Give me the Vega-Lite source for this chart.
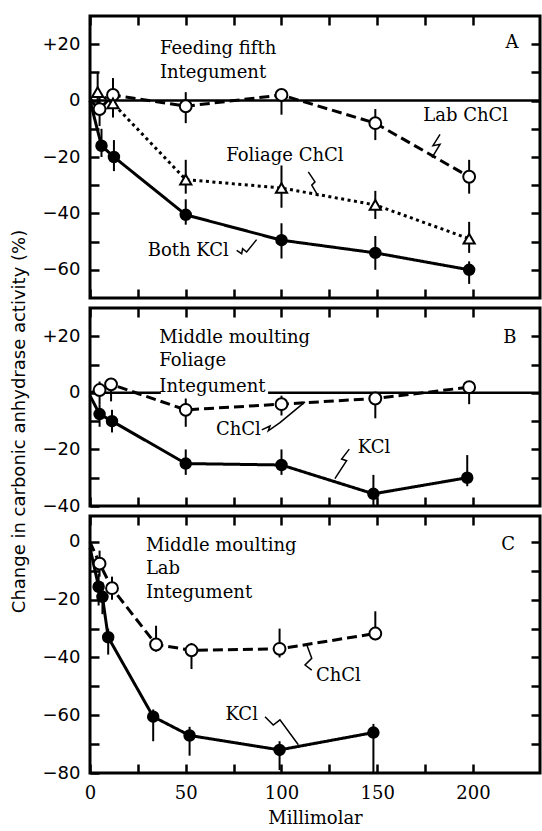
{
"$schema": "https://vega.github.io/schema/vega-lite/v6.json",
"background": "white",
"padding": {"left": 8, "top": 13, "right": 2, "bottom": 0},
"bounds": "flush",
"spacing": 10,
"config": {
  "view": {"stroke": "black", "strokeWidth": 3},
  "axis": {"domain": false, "grid": false, "tickColor": "black", "tickWidth": 2.5, "tickSize": -9, "labelColor": "black", "labelFontSize": 18, "labelPadding": 19, "labelFlush": false, "labelOverlap": false, "labelBound": false, "titleColor": "black", "titleFontSize": 18, "titleFontWeight": "normal"},
  "axisX": {"labelFont": "DejaVu Serif", "titleFont": "DejaVu Serif", "labelPadding": 20, "titlePadding": 7},
  "axisY": {"labelFont": "DejaVu Sans", "titleFont": "DejaVu Sans", "titlePadding": 14},
  "text": {"font": "DejaVu Serif", "fontSize": 18, "color": "black"}
},
"datasets": {
  "A": [
    {"s": "open", "x": 0, "y": 0},
    {"s": "open", "x": 5, "y": -3, "lo": -9, "hi": 2},
    {"s": "open", "x": 12, "y": 2, "lo": -4, "hi": 8},
    {"s": "open", "x": 50, "y": -2, "lo": -8, "hi": 3},
    {"s": "open", "x": 100, "y": 2, "lo": -5, "hi": 3},
    {"s": "open", "x": 149, "y": -8, "lo": -14, "hi": -3},
    {"s": "open", "x": 198, "y": -27, "lo": -33, "hi": -21},
    {"s": "tri", "x": 0, "y": 0},
    {"s": "tri", "x": 4, "y": 3, "lo": -3, "hi": 10},
    {"s": "tri", "x": 12, "y": -1, "lo": -6, "hi": 4},
    {"s": "tri", "x": 50, "y": -28, "lo": -33, "hi": -21},
    {"s": "tri", "x": 100, "y": -31, "lo": -38, "hi": -23},
    {"s": "tri", "x": 149, "y": -37, "lo": -42, "hi": -32},
    {"s": "tri", "x": 198, "y": -49, "lo": -54, "hi": -43},
    {"s": "kcl", "x": 0, "y": 0},
    {"s": "kcl", "x": 6, "y": -16, "lo": -20, "hi": -10},
    {"s": "kcl", "x": 12.5, "y": -20, "lo": -25, "hi": -14},
    {"s": "kcl", "x": 50, "y": -40.5, "lo": -44, "hi": -35},
    {"s": "kcl", "x": 100, "y": -49.5, "lo": -56, "hi": -43.5},
    {"s": "kcl", "x": 149, "y": -54, "lo": -60, "hi": -48},
    {"s": "kcl", "x": 198, "y": -60, "lo": -65, "hi": -57}
  ],
  "B": [
    {"s": "open", "x": 0, "y": 0},
    {"s": "open", "x": 5, "y": 1, "lo": -4, "hi": 4},
    {"s": "open", "x": 11, "y": 3, "lo": -3, "hi": 5},
    {"s": "open", "x": 50, "y": -6, "lo": -12, "hi": -2},
    {"s": "open", "x": 100, "y": -4, "lo": -8, "hi": -1},
    {"s": "open", "x": 149, "y": -2, "lo": -9, "hi": 0},
    {"s": "open", "x": 198, "y": 2, "lo": -4, "hi": 4},
    {"s": "kcl", "x": 0, "y": -1},
    {"s": "kcl", "x": 5, "y": -7.5, "lo": -12, "hi": -4},
    {"s": "kcl", "x": 11.5, "y": -10, "lo": -14, "hi": -6},
    {"s": "kcl", "x": 50, "y": -25, "lo": -29, "hi": -20},
    {"s": "kcl", "x": 100, "y": -25.5, "lo": -29, "hi": -20},
    {"s": "kcl", "x": 148, "y": -35.7, "lo": -40, "hi": -29},
    {"s": "kcl", "x": 197, "y": -30, "lo": -33, "hi": -22}
  ],
  "C": [
    {"s": "open", "x": 0, "y": 0},
    {"s": "open", "x": 5, "y": -7.5, "lo": -12, "hi": -3},
    {"s": "open", "x": 11.5, "y": -16, "lo": -20, "hi": -12},
    {"s": "open", "x": 34.5, "y": -35.5, "lo": -38, "hi": -29},
    {"s": "open", "x": 53, "y": -37.5, "lo": -44, "hi": -35},
    {"s": "open", "x": 99, "y": -37, "lo": -40, "hi": -30},
    {"s": "open", "x": 149, "y": -31.7, "lo": -34, "hi": -24},
    {"s": "kcl", "x": 0, "y": -2},
    {"s": "kcl", "x": 4.5, "y": -15.5, "lo": -22, "hi": -11},
    {"s": "kcl", "x": 6.5, "y": -19, "lo": -25, "hi": -14},
    {"s": "kcl", "x": 9.5, "y": -33, "lo": -39, "hi": -30},
    {"s": "kcl", "x": 33, "y": -60.5, "lo": -69, "hi": -58},
    {"s": "kcl", "x": 52, "y": -67, "lo": -74, "hi": -64},
    {"s": "kcl", "x": 99, "y": -72, "lo": -79, "hi": -69},
    {"s": "kcl", "x": 148, "y": -66, "lo": -80, "hi": -63}
  ],
  "notesA": [
    {"x": 36.5, "y": 18.2, "t": "Feeding fifth"},
    {"x": 36.5, "y": 9.9, "t": "Integument"}
  ],
  "labelsA": [
    {"x": 220.4, "y": 20.6, "t": "A"},
    {"x": 196.2, "y": -5.4, "t": "Lab ChCl"},
    {"x": 101.8, "y": -19.6, "t": "Foliage ChCl"},
    {"x": 51.3, "y": -53.3, "t": "Both KCl"}
  ],
  "notesB": [
    {"x": 36.2, "y": 19.3, "t": "Middle moulting"},
    {"x": 36.2, "y": 11.1, "t": "Foliage"},
    {"x": 36.2, "y": 2.2, "t": "Integument"}
  ],
  "labelsB": [
    {"x": 219.3, "y": 19.5, "t": "B"},
    {"x": 77.5, "y": -13.1, "t": "ChCl"},
    {"x": 148.3, "y": -19.5, "t": "KCl"}
  ],
  "notesC": [
    {"x": 29.2, "y": -1.5, "t": "Middle moulting"},
    {"x": 29.2, "y": -9.5, "t": "Lab"},
    {"x": 29.2, "y": -17.6, "t": "Integument"}
  ],
  "labelsC": [
    {"x": 218.4, "y": -0.9, "t": "C"},
    {"x": 129.7, "y": -46.3, "t": "ChCl"},
    {"x": 79.2, "y": -59.9, "t": "KCl"}
  ],
  "squigA": [
    {"g": 1, "x": 182.8, "y": -12.0}, {"g": 1, "x": 179.1, "y": -16.0}, {"g": 1, "x": 182.8, "y": -15.5}, {"g": 1, "x": 178.6, "y": -20.2},
    {"g": 2, "x": 114, "y": -25.3}, {"g": 2, "x": 117.5, "y": -28.8}, {"g": 2, "x": 115.8, "y": -30}, {"g": 2, "x": 119.2, "y": -33.9},
    {"g": 3, "x": 76.6, "y": -53.1}, {"g": 3, "x": 79.2, "y": -54.3}, {"g": 3, "x": 79.7, "y": -52.5}, {"g": 3, "x": 81.8, "y": -53.7}, {"g": 3, "x": 87, "y": -49.3}
  ],
  "squigB": [
    {"g": 1, "x": 89.7, "y": -13.1}, {"g": 1, "x": 94, "y": -11.7}, {"g": 1, "x": 93.1, "y": -13.4}, {"g": 1, "x": 99.2, "y": -10.5}, {"g": 1, "x": 112.3, "y": -3.2},
    {"g": 2, "x": 135.4, "y": -19.9}, {"g": 2, "x": 131.4, "y": -23.4}, {"g": 2, "x": 134, "y": -24}, {"g": 2, "x": 127.9, "y": -30.3}
  ],
  "squigC": [
    {"g": 1, "x": 115.8, "y": -44.4}, {"g": 1, "x": 112.3, "y": -42.6}, {"g": 1, "x": 115.8, "y": -40.3}, {"g": 1, "x": 113.2, "y": -35.6},
    {"g": 2, "x": 91.4, "y": -60.5}, {"g": 2, "x": 95.7, "y": -63.4}, {"g": 2, "x": 99.2, "y": -61.6}, {"g": 2, "x": 108.8, "y": -70.2}
  ]
},
"vconcat": [
  {
    "width": 450, "height": 282,
    "resolve": {"axis": {"x": "independent", "y": "independent"}},
    "layer": [
      {"data": {"values": [{}]}, "mark": {"type": "rule", "color": "black", "strokeWidth": 2.5},
       "encoding": {"y": {"datum": 0, "type": "quantitative", "scale": {"domain": [-70, 30]}, "axis": null}}},
      {"data": {"name": "A"}, "mark": {"type": "line", "color": "black", "strokeWidth": 3},
       "encoding": {
         "x": {"field": "x", "type": "quantitative", "scale": {"domain": [0, 235], "nice": false}, "axis": {"orient": "bottom", "values": [0, 25, 50, 75, 100, 125, 150, 175, 200], "labels": false, "title": null}},
         "y": {"field": "y", "type": "quantitative", "scale": {"domain": [-70, 30], "nice": false}, "axis": {"orient": "left", "values": [-60, -50, -40, -30, -20, -10, 0, 10, 20], "labelExpr": "datum.value % 20 == 0 ? (datum.value > 0 ? '+' + datum.label : datum.label) : ''", "title": null}},
         "strokeDash": {"field": "s", "type": "nominal", "scale": {"domain": ["open", "tri", "kcl"], "range": [[10, 5], [3, 3.5], [1, 0]]}, "legend": null}
       }},
      {"data": {"name": "A"}, "transform": [{"filter": "isValid(datum.lo)"}], "mark": {"type": "rule", "color": "black", "strokeWidth": 2},
       "encoding": {
         "x": {"field": "x", "type": "quantitative", "scale": {"domain": [0, 235], "nice": false}, "axis": {"orient": "top", "values": [0, 25, 50, 75, 100, 125, 150, 175, 200], "labels": false, "title": null}},
         "y": {"field": "lo", "type": "quantitative", "scale": {"domain": [-70, 30], "nice": false}, "axis": {"orient": "right", "values": [-60, -50, -40, -30, -20, -10, 0, 10, 20], "labels": false, "title": null}},
         "y2": {"field": "hi"}
       }},
      {"data": {"name": "A"}, "transform": [{"filter": "datum.x > 0"}], "mark": {"type": "point", "filled": true, "stroke": "black", "strokeWidth": 2, "opacity": 1},
       "encoding": {
         "x": {"field": "x", "type": "quantitative", "scale": {"domain": [0, 235], "nice": false}, "axis": null},
         "y": {"field": "y", "type": "quantitative", "scale": {"domain": [-70, 30], "nice": false}, "axis": null},
         "shape": {"field": "s", "type": "nominal", "scale": {"domain": ["open", "tri", "kcl"], "range": ["circle", "triangle-up", "circle"]}, "legend": null},
         "fill": {"field": "s", "type": "nominal", "scale": {"domain": ["open", "tri", "kcl"], "range": ["white", "white", "black"]}, "legend": null},
         "size": {"field": "s", "type": "nominal", "scale": {"domain": ["open", "tri", "kcl"], "range": [140, 110, 170]}, "legend": null}
       }},
      {"data": {"name": "squigA"}, "mark": {"type": "line", "color": "black", "strokeWidth": 1.5},
       "encoding": {
         "x": {"field": "x", "type": "quantitative", "scale": {"domain": [0, 235], "nice": false}, "axis": null},
         "y": {"field": "y", "type": "quantitative", "scale": {"domain": [-70, 30], "nice": false}, "axis": null},
         "detail": {"field": "g", "type": "nominal"},
         "order": {"value": null}
       }},
      {"data": {"name": "notesA"}, "mark": {"type": "text", "align": "left", "baseline": "middle"},
       "encoding": {
         "x": {"field": "x", "type": "quantitative", "scale": {"domain": [0, 235], "nice": false}, "axis": null},
         "y": {"field": "y", "type": "quantitative", "scale": {"domain": [-70, 30], "nice": false}, "axis": null},
         "text": {"field": "t"}
       }},
      {"data": {"name": "labelsA"}, "mark": {"type": "text", "align": "center", "baseline": "middle"},
       "encoding": {
         "x": {"field": "x", "type": "quantitative", "scale": {"domain": [0, 235], "nice": false}, "axis": null},
         "y": {"field": "y", "type": "quantitative", "scale": {"domain": [-70, 30], "nice": false}, "axis": null},
         "text": {"field": "t"}
       }}
    ]
  },
  {
    "width": 450, "height": 198,
    "resolve": {"axis": {"x": "independent", "y": "independent"}},
    "layer": [
      {"data": {"values": [{}]}, "mark": {"type": "rule", "color": "black", "strokeWidth": 2.5},
       "encoding": {
         "x": {"datum": 0, "type": "quantitative", "scale": {"domain": [0, 235], "nice": false}, "axis": null},
         "x2": {"datum": 37},
         "y": {"datum": 0, "type": "quantitative", "scale": {"domain": [-40, 30], "nice": false}, "axis": null}}},
      {"data": {"values": [{}]}, "mark": {"type": "rule", "color": "black", "strokeWidth": 2.5},
       "encoding": {
         "x": {"datum": 93, "type": "quantitative", "scale": {"domain": [0, 235], "nice": false}, "axis": null},
         "x2": {"datum": 235},
         "y": {"datum": 0, "type": "quantitative", "scale": {"domain": [-40, 30], "nice": false}, "axis": null}}},
      {"data": {"name": "B"}, "mark": {"type": "line", "color": "black", "strokeWidth": 3},
       "encoding": {
         "x": {"field": "x", "type": "quantitative", "scale": {"domain": [0, 235], "nice": false}, "axis": {"orient": "bottom", "values": [0, 25, 50, 75, 100, 125, 150, 175, 200], "labels": false, "title": null}},
         "y": {"field": "y", "type": "quantitative", "scale": {"domain": [-40, 30], "nice": false}, "axis": {"orient": "left", "values": [-40, -30, -20, -10, 0, 10, 20], "labelExpr": "datum.value % 20 == 0 ? (datum.value > 0 ? '+' + datum.label : datum.label) : ''", "title": "Change in carbonic anhydrase activity (%)", "titleY": 113}},
         "strokeDash": {"field": "s", "type": "nominal", "scale": {"domain": ["open", "tri", "kcl"], "range": [[10, 5], [3, 3.5], [1, 0]]}, "legend": null}
       }},
      {"data": {"name": "B"}, "transform": [{"filter": "isValid(datum.lo)"}], "mark": {"type": "rule", "color": "black", "strokeWidth": 2},
       "encoding": {
         "x": {"field": "x", "type": "quantitative", "scale": {"domain": [0, 235], "nice": false}, "axis": {"orient": "top", "values": [0, 25, 50, 75, 100, 125, 150, 175, 200], "labels": false, "title": null}},
         "y": {"field": "lo", "type": "quantitative", "scale": {"domain": [-40, 30], "nice": false}, "axis": {"orient": "right", "values": [-30, -20, -10, 0, 10, 20], "labels": false, "title": null}},
         "y2": {"field": "hi"}
       }},
      {"data": {"name": "B"}, "transform": [{"filter": "datum.x > 0"}], "mark": {"type": "point", "filled": true, "stroke": "black", "strokeWidth": 2, "opacity": 1},
       "encoding": {
         "x": {"field": "x", "type": "quantitative", "scale": {"domain": [0, 235], "nice": false}, "axis": null},
         "y": {"field": "y", "type": "quantitative", "scale": {"domain": [-40, 30], "nice": false}, "axis": null},
         "shape": {"field": "s", "type": "nominal", "scale": {"domain": ["open", "tri", "kcl"], "range": ["circle", "triangle-up", "circle"]}, "legend": null},
         "fill": {"field": "s", "type": "nominal", "scale": {"domain": ["open", "tri", "kcl"], "range": ["white", "white", "black"]}, "legend": null},
         "size": {"field": "s", "type": "nominal", "scale": {"domain": ["open", "tri", "kcl"], "range": [140, 110, 170]}, "legend": null}
       }},
      {"data": {"name": "squigB"}, "mark": {"type": "line", "color": "black", "strokeWidth": 1.5},
       "encoding": {
         "x": {"field": "x", "type": "quantitative", "scale": {"domain": [0, 235], "nice": false}, "axis": null},
         "y": {"field": "y", "type": "quantitative", "scale": {"domain": [-40, 30], "nice": false}, "axis": null},
         "detail": {"field": "g", "type": "nominal"},
         "order": {"value": null}
       }},
      {"data": {"name": "notesB"}, "mark": {"type": "text", "align": "left", "baseline": "middle"},
       "encoding": {
         "x": {"field": "x", "type": "quantitative", "scale": {"domain": [0, 235], "nice": false}, "axis": null},
         "y": {"field": "y", "type": "quantitative", "scale": {"domain": [-40, 30], "nice": false}, "axis": null},
         "text": {"field": "t"}
       }},
      {"data": {"name": "labelsB"}, "mark": {"type": "text", "align": "center", "baseline": "middle"},
       "encoding": {
         "x": {"field": "x", "type": "quantitative", "scale": {"domain": [0, 235], "nice": false}, "axis": null},
         "y": {"field": "y", "type": "quantitative", "scale": {"domain": [-40, 30], "nice": false}, "axis": null},
         "text": {"field": "t"}
       }}
    ]
  },
  {
    "width": 450, "height": 257,
    "resolve": {"axis": {"x": "independent", "y": "independent"}},
    "layer": [
      {"data": {"name": "C"}, "mark": {"type": "line", "color": "black", "strokeWidth": 3},
       "encoding": {
         "x": {"field": "x", "type": "quantitative", "scale": {"domain": [0, 235], "nice": false}, "axis": {"orient": "bottom", "values": [0, 25, 50, 75, 100, 125, 150, 175, 200], "labelExpr": "datum.value % 50 == 0 ? datum.label : ''", "title": "Millimolar"}},
         "y": {"field": "y", "type": "quantitative", "scale": {"domain": [-80, 9], "nice": false}, "axis": {"orient": "left", "values": [-80, -70, -60, -50, -40, -30, -20, -10, 0], "labelExpr": "datum.value % 20 == 0 ? (datum.value > 0 ? '+' + datum.label : datum.label) : ''", "title": null}},
         "strokeDash": {"field": "s", "type": "nominal", "scale": {"domain": ["open", "tri", "kcl"], "range": [[10, 5], [3, 3.5], [1, 0]]}, "legend": null}
       }},
      {"data": {"name": "C"}, "transform": [{"filter": "isValid(datum.lo)"}], "mark": {"type": "rule", "color": "black", "strokeWidth": 2},
       "encoding": {
         "x": {"field": "x", "type": "quantitative", "scale": {"domain": [0, 235], "nice": false}, "axis": {"orient": "top", "values": [0, 25, 50, 75, 100, 125, 150, 175, 200], "labels": false, "title": null}},
         "y": {"field": "lo", "type": "quantitative", "scale": {"domain": [-80, 9], "nice": false}, "axis": {"orient": "right", "values": [-70, -60, -50, -40, -30, -20, -10, 0], "labels": false, "title": null}},
         "y2": {"field": "hi"}
       }},
      {"data": {"name": "C"}, "transform": [{"filter": "datum.x > 0"}], "mark": {"type": "point", "filled": true, "stroke": "black", "strokeWidth": 2, "opacity": 1},
       "encoding": {
         "x": {"field": "x", "type": "quantitative", "scale": {"domain": [0, 235], "nice": false}, "axis": null},
         "y": {"field": "y", "type": "quantitative", "scale": {"domain": [-80, 9], "nice": false}, "axis": null},
         "shape": {"field": "s", "type": "nominal", "scale": {"domain": ["open", "tri", "kcl"], "range": ["circle", "triangle-up", "circle"]}, "legend": null},
         "fill": {"field": "s", "type": "nominal", "scale": {"domain": ["open", "tri", "kcl"], "range": ["white", "white", "black"]}, "legend": null},
         "size": {"field": "s", "type": "nominal", "scale": {"domain": ["open", "tri", "kcl"], "range": [140, 110, 170]}, "legend": null}
       }},
      {"data": {"name": "squigC"}, "mark": {"type": "line", "color": "black", "strokeWidth": 1.5},
       "encoding": {
         "x": {"field": "x", "type": "quantitative", "scale": {"domain": [0, 235], "nice": false}, "axis": null},
         "y": {"field": "y", "type": "quantitative", "scale": {"domain": [-80, 9], "nice": false}, "axis": null},
         "detail": {"field": "g", "type": "nominal"},
         "order": {"value": null}
       }},
      {"data": {"name": "notesC"}, "mark": {"type": "text", "align": "left", "baseline": "middle"},
       "encoding": {
         "x": {"field": "x", "type": "quantitative", "scale": {"domain": [0, 235], "nice": false}, "axis": null},
         "y": {"field": "y", "type": "quantitative", "scale": {"domain": [-80, 9], "nice": false}, "axis": null},
         "text": {"field": "t"}
       }},
      {"data": {"name": "labelsC"}, "mark": {"type": "text", "align": "center", "baseline": "middle"},
       "encoding": {
         "x": {"field": "x", "type": "quantitative", "scale": {"domain": [0, 235], "nice": false}, "axis": null},
         "y": {"field": "y", "type": "quantitative", "scale": {"domain": [-80, 9], "nice": false}, "axis": null},
         "text": {"field": "t"}
       }}
    ]
  }
]
}
